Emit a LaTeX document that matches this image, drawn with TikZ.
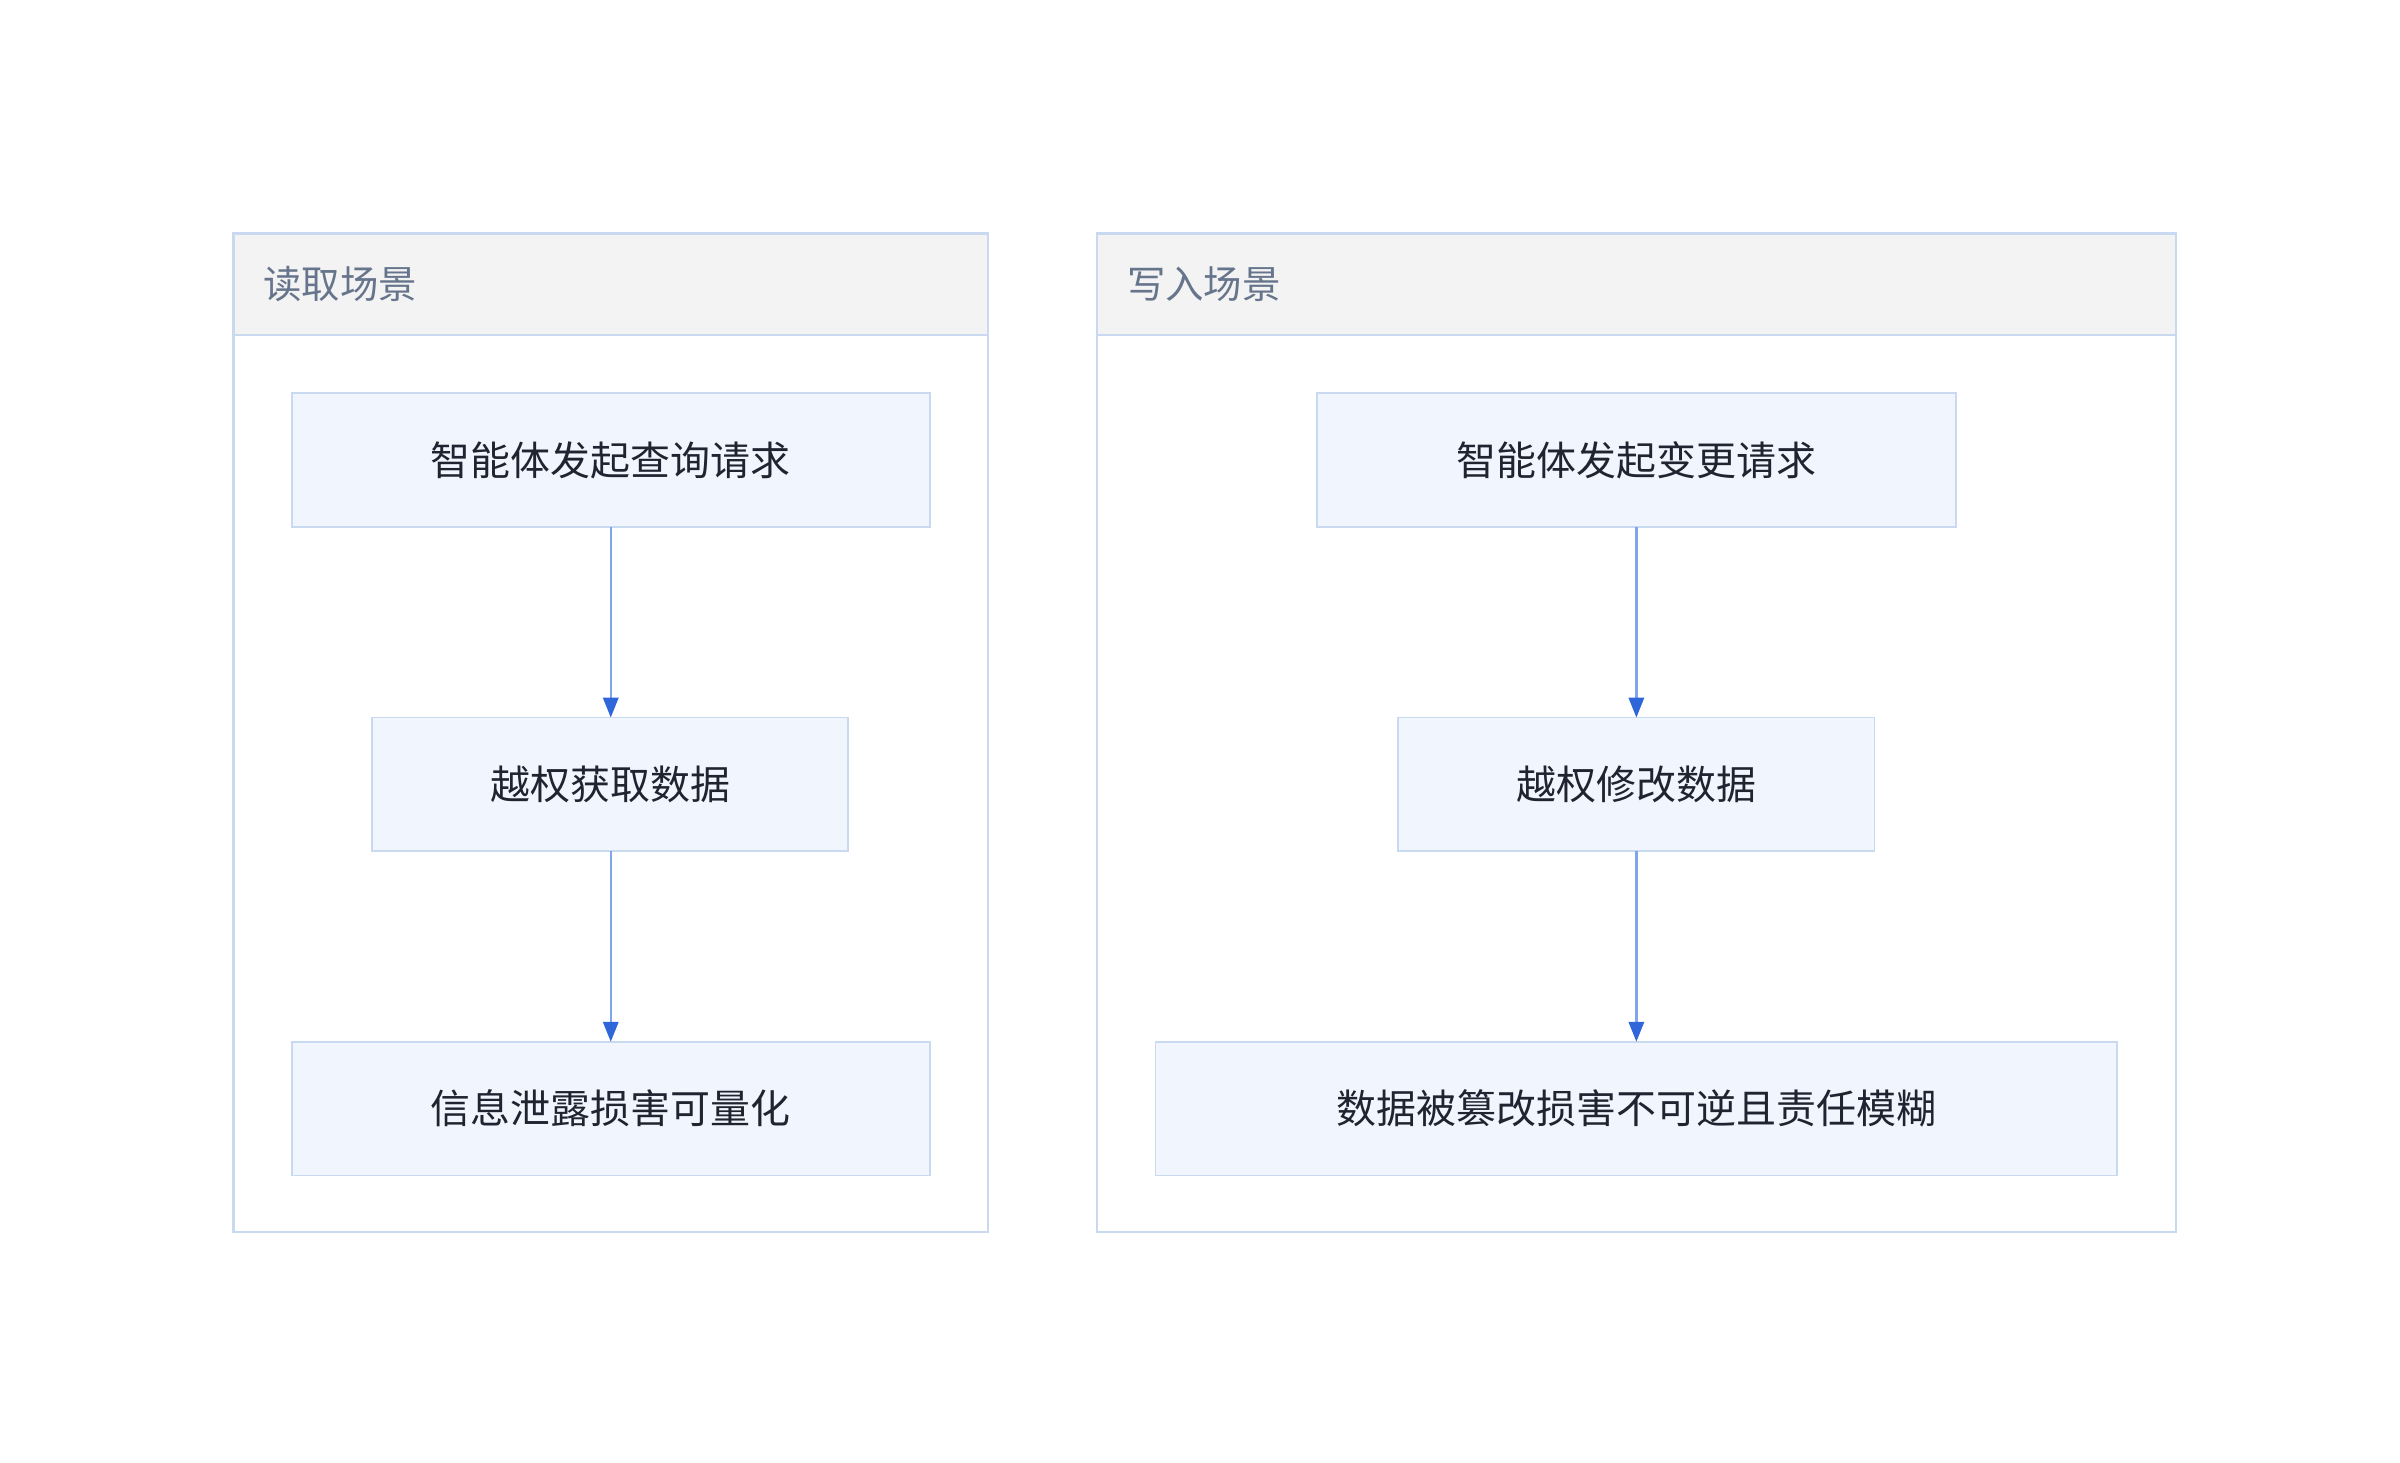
\documentclass[tikz,border=0pt]{standalone}
\usepackage{fontspec}
\setmainfont{Noto Sans CJK SC}
\usetikzlibrary{arrows.meta}
\definecolor{bd}{HTML}{C9D9F0}
\definecolor{nf}{HTML}{F0F5FE}
\definecolor{hf}{HTML}{F3F3F3}
\definecolor{ln}{HTML}{7FA6EC}
\definecolor{ah}{HTML}{2F66D9}
\definecolor{tt}{HTML}{66748C}
\definecolor{tx}{HTML}{1F2430}
\begin{document}
\begin{tikzpicture}[x=1pt,y=-1pt,
 panel/.style={draw=bd,line width=1.5pt},
 head/.style={draw=bd,fill=hf,line width=1.5pt},
 box/.style={draw=bd,fill=nf,line width=1.2pt,text=tx,font=\fontsize{26}{30}\selectfont},
 ttl/.style={text=tt,anchor=west,font=\fontsize{25}{30}\selectfont},
 arr/.style={draw=ln,line width=1.5pt,-{Triangle[length=13pt,width=10pt,color=ah]}}]
\useasboundingbox (0,0) rectangle (1562,952);
% left panel
\draw[panel] (152,152) rectangle (643,802);
\draw[head] (152,152) rectangle (643,218);
\node[ttl] (t1) at (168,185) {读取场景};
\draw[box] (190,256) rectangle (605,343); \node[text=tx,font=\fontsize{26}{30}\selectfont] (a1) at (397.5,299.5) {智能体发起查询请求};
\coordinate (a1b) at (397.5,343); \coordinate (a2t) at (397.5,467);
\draw[box] (242,467) rectangle (552,554); \node[text=tx,font=\fontsize{26}{30}\selectfont] (a2) at (397.5,510.5) {越权获取数据};
\coordinate (a2b) at (397.5,554); \coordinate (a3t) at (397.5,678);
\draw[box] (190,678) rectangle (605,765); \node[text=tx,font=\fontsize{26}{30}\selectfont] (a3) at (397.5,721.5) {信息泄露损害可量化};
\draw[arr] (a1b) -- (a2t);
\draw[arr] (a2b) -- (a3t);
% right panel
\draw[panel] (714,152) rectangle (1416,802);
\draw[head] (714,152) rectangle (1416,218);
\node[ttl] (t2) at (730,185) {写入场景};
\draw[box] (857,256) rectangle (1273,343); \node[text=tx,font=\fontsize{26}{30}\selectfont] (b1) at (1065,299.5) {智能体发起变更请求};
\coordinate (b1b) at (1065,343); \coordinate (b2t) at (1065,467);
\draw[box] (910,467) rectangle (1220,554); \node[text=tx,font=\fontsize{26}{30}\selectfont] (b2) at (1065,510.5) {越权修改数据};
\coordinate (b2b) at (1065,554); \coordinate (b3t) at (1065,678);
\draw[box] (752,678) rectangle (1378,765); \node[text=tx,font=\fontsize{26}{30}\selectfont] (b3) at (1065,721.5) {数据被篡改损害不可逆且责任模糊};
\draw[arr] (b1b) -- (b2t);
\draw[arr] (b2b) -- (b3t);
\end{tikzpicture}
\end{document}
